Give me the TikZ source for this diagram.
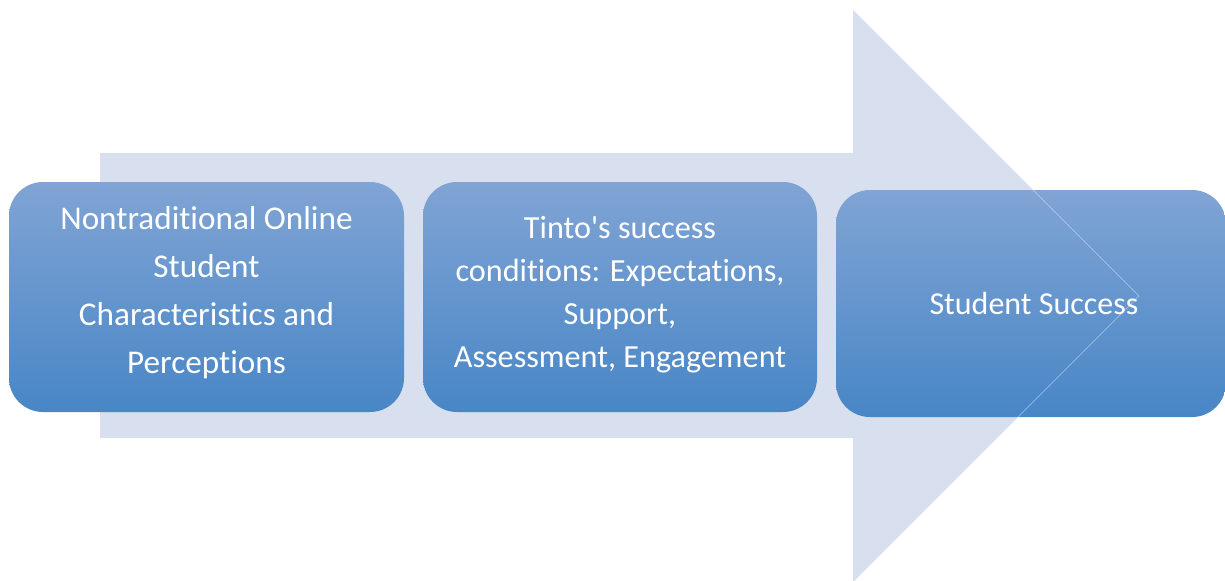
\documentclass[tikz,border=0pt]{standalone}
\usepackage{fontspec}
\newfontfamily\boxfont[Ligatures=NoCommon]{Carlito}
\usepackage{xcolor}
\usetikzlibrary{positioning}

\definecolor{arrowfill}{RGB}{216,223,238}
\definecolor{boxtop}{RGB}{128,164,212}
\definecolor{boxbottom}{RGB}{72,134,198}

\tikzset{
	stagebox/.style = {rectangle, rounded corners=17pt, inner sep=0pt,
		top color=boxtop, bottom color=boxbottom, draw=none,
		text=white, align=center, font=\boxfont\fontsize{16.6}{24}\selectfont}
}

\begin{document}
\begin{tikzpicture}[x = 0.5pt, y = -0.5pt]
	\useasboundingbox (0,0) rectangle (1225,580);
	%
	% big background arrow
	\fill[arrowfill] (100,153) -- (853,153) -- (853,10) -- (1139,296)
	-- (853,582) -- (853,438) -- (100,438) -- cycle;
	%
	\node[stagebox, minimum width=197.5pt, minimum height=115pt, text depth=7.5pt] (chars) at (206.5,297)
	{Nontraditional Online\\Student\\Characteristics and\\Perceptions};
	\node[stagebox, minimum width=197pt, minimum height=115pt, text depth=5.5pt,
		font=\boxfont\fontsize{16.1}{21.5}\selectfont] (tinto) at (620,297)
	{Tinto's success\\conditions: Expectations,\\Support,\\Assessment, Engagement};
	\node[stagebox, minimum width=195pt, minimum height=113.5pt,
		font=\boxfont\fontsize{16}{21.5}\selectfont] (success) at (1031,303.5)
	{\hspace{3pt}Student Success};
	%
	% arrow edges showing faintly through the last box
	\begin{scope}
		\clip (836,190) rectangle (1225,417);
		\draw[white, opacity=0.35, line width=0.4pt] (853,10) -- (1139,296) -- (853,582);
	\end{scope}
\end{tikzpicture}
\end{document}
